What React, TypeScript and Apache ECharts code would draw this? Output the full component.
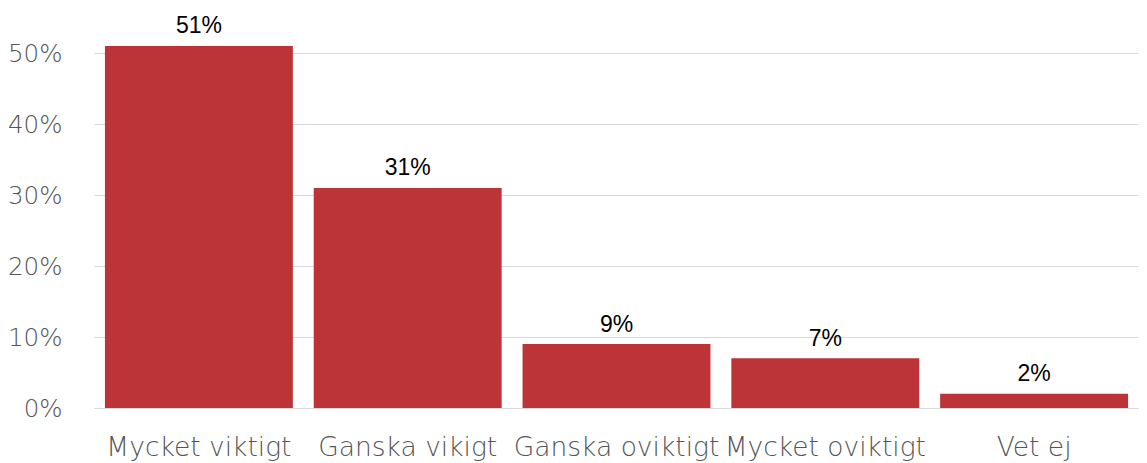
import React, { useEffect, useRef } from "react";
import * as echarts from "echarts";

const categories = ["Mycket viktigt", "Ganska vikigt", "Ganska oviktigt", "Mycket oviktigt", "Vet ej"];
const values = [0.51, 0.31, 0.09, 0.07, 0.02];

export default function App() {
  const ref = useRef<HTMLDivElement>(null);
  useEffect(() => {
    document.body.style.margin = "0";
    const chart = echarts.init(ref.current!, null, { renderer: "svg" });
    chart.setOption({
      animation: false,
      grid: { left: 94.5, right: 8.5, top: 53, bottom: 55, containLabel: false },
      xAxis: {
        type: "category",
        data: categories,
        axisLine: { show: true, lineStyle: { color: "#d9d9d9", width: 1 } },
        axisTick: { show: false },
        axisLabel: {
          color: "#555555",
          fontFamily: "DejaVu Sans",
          fontWeight: 200,
          fontSize: 26.5,
          margin: 25,
          interval: 0,
        },
      },
      yAxis: {
        type: "value",
        min: 0,
        max: 0.5,
        interval: 0.1,
        axisLine: { show: false },
        axisTick: { show: false },
        splitLine: { lineStyle: { color: "#d9d9d9", width: 1 } },
        axisLabel: {
          color: "#555555",
          fontFamily: "DejaVu Sans",
          fontWeight: 200,
          fontSize: 24.5,
          margin: 32,
          formatter: (v: number) => Math.round(v * 100) + "%",
        },
      },
      series: [
        {
          type: "bar",
          data: values,
          clip: false,
          barCategoryGap: "10%",
          itemStyle: { color: "#BC3437" },
          label: {
            show: true,
            position: "top",
            distance: 9,
            color: "#000",
            fontFamily: "Liberation Sans",
            fontWeight: "normal",
            fontSize: 23,
            formatter: (p: any) => Math.round(p.value * 100) + "%",
          },
        },
      ],
    });
    return () => chart.dispose();
  }, []);
  return <div ref={ref} style={{ width: 1147, height: 463 }} />;
}
